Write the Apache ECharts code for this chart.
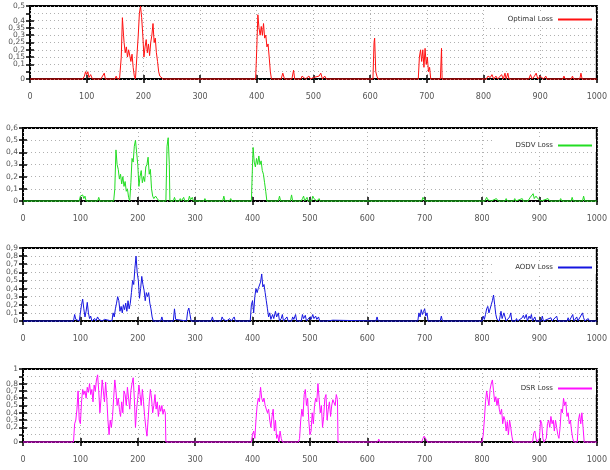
<!DOCTYPE html>
<html>
<head>
<meta charset="utf-8">
<script src="https://cdn.jsdelivr.net/npm/echarts@6/dist/echarts.min.js"></script>
<style>
    html, body {margin: 0; padding: 0; background: #fff;}
    #loss_chart {width: 610px; height: 470px;}
</style>
</head>
<body>
<div id="loss_chart"></div>
<script>
//***************数据*************************
var x_ticks = [0, 100, 200, 300, 400, 500, 600, 700, 800, 900, 1000];
var series_names = ['Optimal Loss', 'DSDV Loss', 'AODV Loss', 'DSR Loss'];
var y_max = [0.5, 0.6, 0.9, 1];
var y_step = [0.05, 0.1, 0.1, 0.1];

var optimal_loss = [[0,0],[93,0],[96,0.02],[98,0.05],[100,0.03],[102,0.05],[104,0.01],[107,0.03],[110,0],[125,0],[128,0.02],[131,0.04],[133,0],[150,0],[152,0.02],[154,0],[158,0],[161,0.15],[163,0.42],[165,0.3],[166,0.25],[168,0.18],[170,0.22],[172,0.15],[174,0.2],[176,0.21],[178,0.12],[180,0.17],[182,0.08],[184,0.02],[186,0],[189,0],[191,0.3],[193,0.45],[195,0.5],[197,0.42],[199,0.3],[201,0.15],[203,0.22],[205,0.27],[207,0.18],[209,0.24],[211,0.16],[213,0.25],[215,0.3],[217,0.38],[219,0.25],[221,0.28],[223,0.18],[225,0.12],[227,0.05],[229,0.02],[232,0.03],[235,0],[265,0],[267,0.01],[269,0],[398,0],[400,0.2],[402,0.44],[404,0.35],[406,0.3],[408,0.36],[410,0.3],[412,0.38],[414,0.28],[416,0.3],[418,0.22],[420,0.24],[422,0.15],[424,0.05],[426,0],[428,0.01],[430,0],[443,0],[446,0.04],[449,0],[462,0],[465,0.06],[467,0],[478,0],[480,0.02],[483,0.03],[486,0],[492,0.02],[495,0],[500,0.01],[503,0],[510,0.02],[513,0.04],[516,0],[520,0.02],[523,0],[605,0],[607,0.25],[608,0.28],[610,0.05],[612,0.02],[614,0],[685,0],[687,0.15],[689,0.2],[691,0.12],[693,0.2],[695,0.08],[697,0.21],[699,0.1],[701,0.15],[703,0.05],[705,0.08],[707,0],[724,0],[726,0.21],[727,0],[805,0],[808,0.02],[812,0.01],[815,0.03],[818,0],[822,0.02],[825,0],[832,0.03],[835,0],[838,0.04],[840,0],[843,0.04],[845,0],[880,0],[883,0.03],[886,0],[890,0.02],[893,0.04],[896,0],[900,0.02],[903,0.03],[906,0],[910,0.02],[912,0],[940,0],[942,0.02],[944,0],[955,0],[957,0.02],[959,0],[970,0],[972,0.04],[974,0],[1000,0]];

var dsdv_loss = [[0,0],[98,0],[100,0.04],[102,0.03],[104,0.05],[106,0.02],[108,0.04],[110,0],[120,0],[122,0.01],[124,0],[130,0],[132,0.03],[134,0],[158,0],[160,0.1],[162,0.42],[164,0.3],[166,0.26],[168,0.18],[170,0.22],[172,0.14],[174,0.2],[176,0.12],[178,0.16],[180,0.08],[182,0.1],[184,0.03],[186,0],[188,0.15],[190,0.35],[192,0.32],[194,0.45],[196,0.5],[198,0.4],[200,0.3],[202,0.12],[204,0.2],[206,0.25],[208,0.15],[210,0.2],[212,0.16],[214,0.28],[216,0.3],[218,0.36],[220,0.22],[222,0.26],[224,0.1],[226,0.04],[228,0.02],[231,0.04],[234,0.02],[237,0],[249,0],[251,0.45],[253,0.52],[255,0.3],[256,0],[262,0],[264,0.03],[266,0],[272,0],[274,0.02],[276,0],[280,0.03],[282,0],[288,0],[290,0.04],[292,0.01],[295,0.03],[297,0],[315,0],[317,0.02],[319,0],[348,0],[350,0.04],[352,0],[360,0],[362,0.02],[364,0],[398,0],[400,0.3],[401,0.44],[403,0.32],[405,0.28],[407,0.35],[409,0.3],[411,0.37],[413,0.3],[415,0.33],[417,0.25],[419,0.22],[421,0.15],[423,0.08],[425,0],[445,0],[447,0.04],[449,0],[466,0],[468,0.05],[470,0],[485,0],[487,0.02],[489,0.04],[491,0],[495,0.03],[497,0],[503,0],[505,0.04],[507,0.02],[510,0.03],[512,0],[516,0.02],[518,0],[695,0],[697,0.03],[699,0.04],[701,0],[805,0],[808,0.03],[810,0.01],[813,0.02],[816,0],[825,0.02],[828,0],[840,0],[842,0.02],[844,0],[855,0],[857,0.02],[859,0],[870,0.02],[872,0],[880,0],[884,0.03],[887,0.02],[889,0.06],[891,0.02],[894,0.04],[897,0.02],[900,0.03],[903,0],[915,0.02],[918,0],[935,0],[937,0.02],[939,0],[955,0],[957,0.03],[959,0],[975,0],[977,0.04],[979,0],[1000,0]];

var aodv_loss = [[0,0],[88,0],[90,0.08],[92,0.02],[94,0],[98,0],[100,0.1],[102,0.2],[104,0.27],[106,0.15],[108,0.05],[110,0.12],[112,0.23],[114,0.1],[116,0.03],[118,0.06],[120,0],[125,0.03],[127,0],[130,0.05],[132,0.02],[135,0.04],[138,0],[142,0.02],[145,0],[155,0],[157,0.1],[159,0.05],[161,0.15],[163,0.22],[165,0.3],[167,0.25],[169,0.12],[171,0.18],[173,0.1],[175,0.2],[177,0.14],[179,0.22],[181,0.12],[183,0.25],[185,0.15],[187,0.22],[189,0.35],[191,0.5],[193,0.45],[195,0.65],[197,0.8],[199,0.6],[201,0.5],[203,0.28],[205,0.4],[207,0.55],[209,0.45],[211,0.38],[213,0.25],[215,0.35],[217,0.3],[219,0.35],[221,0.22],[223,0.15],[225,0.05],[227,0],[240,0],[242,0.05],[244,0],[262,0],[264,0.15],[266,0.02],[268,0],[285,0],[287,0.12],[289,0.16],[291,0.08],[293,0],[328,0],[330,0.05],[332,0],[345,0],[347,0.05],[349,0.02],[352,0.04],[355,0],[360,0.03],[363,0],[368,0.05],[370,0],[396,0],[398,0.2],[400,0.25],[402,0.1],[404,0.3],[406,0.4],[408,0.35],[410,0.4],[412,0.38],[414,0.48],[416,0.58],[418,0.42],[420,0.45],[422,0.35],[424,0.25],[426,0.15],[428,0.05],[430,0.1],[432,0.02],[435,0.08],[437,0.03],[440,0.12],[442,0.05],[445,0.1],[447,0],[450,0.03],[452,0.08],[454,0],[460,0.05],[462,0],[468,0],[470,0.05],[472,0.02],[475,0.08],[477,0],[485,0],[487,0.08],[489,0.03],[492,0.07],[494,0],[500,0.05],[502,0.02],[505,0.08],[507,0.03],[510,0.06],[512,0.02],[515,0.05],[517,0],[525,0],[527,0.02],[529,0],[540,0.01],[542,0],[615,0],[617,0.05],[619,0],[688,0],[690,0.1],[692,0.05],[694,0.14],[696,0.08],[698,0.12],[700,0.15],[702,0.06],[704,0.1],[706,0],[727,0],[729,0.06],[731,0],[800,0],[802,0.06],[804,0.02],[806,0.08],[808,0.15],[810,0.18],[812,0.1],[814,0.12],[816,0.2],[818,0.25],[820,0.32],[822,0.2],[824,0.08],[826,0.02],[830,0],[833,0.12],[835,0.03],[838,0.1],[840,0.12],[842,0],[848,0.05],[850,0.1],[852,0],[858,0],[860,0.03],[862,0],[870,0.04],[872,0.07],[874,0.03],[877,0.08],[879,0],[882,0.06],[884,0.03],[886,0.08],[888,0],[892,0.05],[894,0],[903,0],[905,0.06],[907,0],[920,0.04],[922,0],[930,0.06],[932,0],[948,0],[950,0.04],[952,0],[958,0.08],[960,0],[965,0.05],[967,0],[975,0.1],[977,0.04],[979,0],[985,0.03],[987,0],[1000,0]];

var dsr_loss = [[0,0],[88,0],[90,0.25],[92,0.3],[94,0.45],[96,0.7],[98,0.3],[100,0.25],[102,0.55],[104,0.72],[106,0.65],[108,0.7],[110,0.6],[112,0.75],[114,0.68],[116,0.8],[118,0.65],[120,0.72],[122,0.55],[124,0.78],[126,0.7],[128,0.85],[130,0.92],[132,0.7],[134,0.4],[136,0.6],[138,0.85],[140,0.7],[142,0.55],[144,0.82],[146,0.6],[148,0.3],[150,0.1],[152,0.3],[154,0.2],[156,0.35],[158,0.6],[160,0.85],[162,0.7],[164,0.5],[166,0.6],[168,0.45],[170,0.35],[172,0.55],[174,0.4],[176,0.7],[178,0.65],[180,0.5],[182,0.75],[184,0.6],[186,0.45],[188,0.7],[190,0.8],[192,0.88],[194,0.6],[196,0.2],[198,0.45],[200,0.6],[202,0.78],[204,0.65],[206,0.5],[208,0.72],[210,0.55],[212,0.35],[214,0.2],[216,0.08],[218,0.3],[220,0.55],[222,0.72],[224,0.6],[226,0.4],[228,0.5],[230,0.65],[232,0.45],[234,0.55],[236,0.35],[238,0.5],[240,0.42],[242,0.5],[244,0.38],[246,0.45],[248,0.4],[249,0],[398,0],[400,0.1],[402,0.15],[404,0.05],[406,0.3],[408,0.5],[410,0.6],[412,0.55],[414,0.75],[416,0.6],[418,0.55],[420,0.6],[422,0.5],[424,0.52],[426,0.4],[428,0.45],[430,0.3],[432,0.2],[434,0.35],[436,0.45],[438,0.15],[440,0.3],[442,0.05],[444,0.1],[446,0],[448,0.15],[450,0.05],[452,0],[480,0],[482,0.05],[484,0.3],[486,0.45],[488,0.35],[490,0.65],[492,0.72],[494,0.5],[496,0.6],[498,0.3],[500,0.1],[502,0.15],[504,0.4],[506,0.25],[508,0.5],[510,0.6],[512,0.55],[514,0.8],[516,0.6],[518,0.4],[520,0.5],[522,0.2],[524,0.35],[526,0.6],[528,0.65],[530,0.3],[532,0.45],[534,0.55],[536,0.35],[538,0.5],[540,0.58],[542,0.6],[544,0.5],[546,0.65],[548,0.58],[549,0],[618,0],[620,0.04],[622,0],[695,0],[697,0.05],[699,0.08],[701,0.1],[703,0.03],[705,0],[800,0],[802,0.1],[804,0.3],[806,0.55],[808,0.7],[810,0.6],[812,0.5],[814,0.72],[816,0.8],[818,0.85],[820,0.7],[822,0.55],[824,0.62],[826,0.5],[828,0.6],[830,0.45],[832,0.38],[834,0.45],[836,0.25],[838,0.35],[840,0.3],[842,0.15],[844,0.28],[846,0.1],[848,0.3],[850,0.2],[852,0.08],[854,0],[888,0],[890,0.12],[892,0.15],[894,0.05],[896,0],[900,0.05],[902,0.3],[904,0.25],[906,0.05],[908,0],[912,0.05],[914,0.25],[916,0.3],[918,0.2],[920,0.35],[922,0.25],[924,0.3],[926,0.15],[928,0.3],[930,0.2],[932,0.1],[934,0.05],[936,0.2],[938,0.45],[940,0.4],[942,0.6],[944,0.5],[946,0.55],[948,0.35],[950,0.4],[952,0.25],[954,0.3],[956,0.15],[958,0.05],[960,0],[966,0],[968,0.3],[970,0.38],[972,0.25],[974,0.4],[976,0.2],[978,0],[1000,0]];

var all_data = [optimal_loss, dsdv_loss, aodv_loss, dsr_loss];

//***************版式*************************
var colors = ['#ff1010', '#22dd22', '#1515e0', '#ff10ff'];
var grid_left = [30, 23, 23, 23];
var grid_top = [6, 128, 248, 369];
var legend_top = [13, 139, 261, 382];
var font = 'DejaVu Sans';

function y_label(v) {
    return String(+v.toFixed(2)).replace('.', ',');
}

var grids = [], x_axes = [], y_axes = [], series = [], legends = [];
for (var i = 0; i < 4; i++) {
    grids.push({
        left: grid_left[i], right: 10, top: grid_top[i], height: 73,
        show: true, borderColor: '#000', borderWidth: 2
    });
    // bottom axis with labels
    x_axes.push({
        gridIndex: i, type: 'value', min: x_ticks[0], max: x_ticks[x_ticks.length - 1], interval: 100,
        axisLine: {show: false},
        axisTick: {inside: true, length: 4, lineStyle: {color: '#000', width: 1.5}},
        axisLabel: {
            margin: 14, fontSize: 8, color: '#555', fontFamily: font,
            showMinLabel: true, showMaxLabel: true, hideOverlap: false,
            formatter: function (v) { return String(v); }
        },
        splitLine: {show: true, lineStyle: {color: '#b0b0b0', type: [1, 3], width: 1}}
    });
    // mirror ticks on top
    x_axes.push({
        gridIndex: i, type: 'value', position: 'top', min: 0, max: 1000, interval: 100,
        axisLine: {show: false},
        axisTick: {inside: true, length: 4, lineStyle: {color: '#000', width: 1.5}},
        axisLabel: {show: false}, splitLine: {show: false}
    });
    y_axes.push({
        gridIndex: i, type: 'value', min: 0, max: y_max[i], interval: y_step[i],
        axisLine: {show: false},
        axisTick: {inside: true, length: 4, lineStyle: {color: '#000', width: 1.5}},
        axisLabel: {
            margin: 5, fontSize: 7.5, lineHeight: 6, color: '#555', fontFamily: font,
            showMinLabel: true, showMaxLabel: true, hideOverlap: false,
            formatter: y_label
        },
        splitLine: {show: true, lineStyle: {color: '#b0b0b0', type: [1, 3], width: 1}}
    });
    y_axes.push({
        gridIndex: i, type: 'value', position: 'right', min: 0, max: y_max[i], interval: y_step[i],
        axisLine: {show: false},
        axisTick: {inside: true, length: 4, lineStyle: {color: '#000', width: 1.5}},
        axisLabel: {show: false}, splitLine: {show: false}
    });
    series.push({
        name: series_names[i], type: 'line',
        xAxisIndex: i * 2, yAxisIndex: i * 2,
        data: all_data[i], showSymbol: false, symbol: 'none', clip: false,
        lineStyle: {color: colors[i], width: 1}, itemStyle: {color: colors[i]},
        z: 10
    });
    legends.push({
        data: [series_names[i]],
        top: legend_top[i], right: 14,
        align: 'right', icon: 'rect', itemWidth: 34, itemHeight: 2,
        itemStyle: {color: colors[i], borderWidth: 0},
        lineStyle: {color: colors[i]},
        backgroundColor: '#fff', padding: [3, 4, 3, 22],
        textStyle: {fontSize: 7, color: '#333', fontFamily: font},
        selectedMode: false
    });
}

//***************初始化图表***********************************
var loss_chart = echarts.init(document.getElementById('loss_chart'));
loss_chart.setOption({
    animation: false,
    backgroundColor: '#fff',
    grid: grids,
    xAxis: x_axes,
    yAxis: y_axes,
    legend: legends,
    series: series
});
</script>
</body>
</html>
